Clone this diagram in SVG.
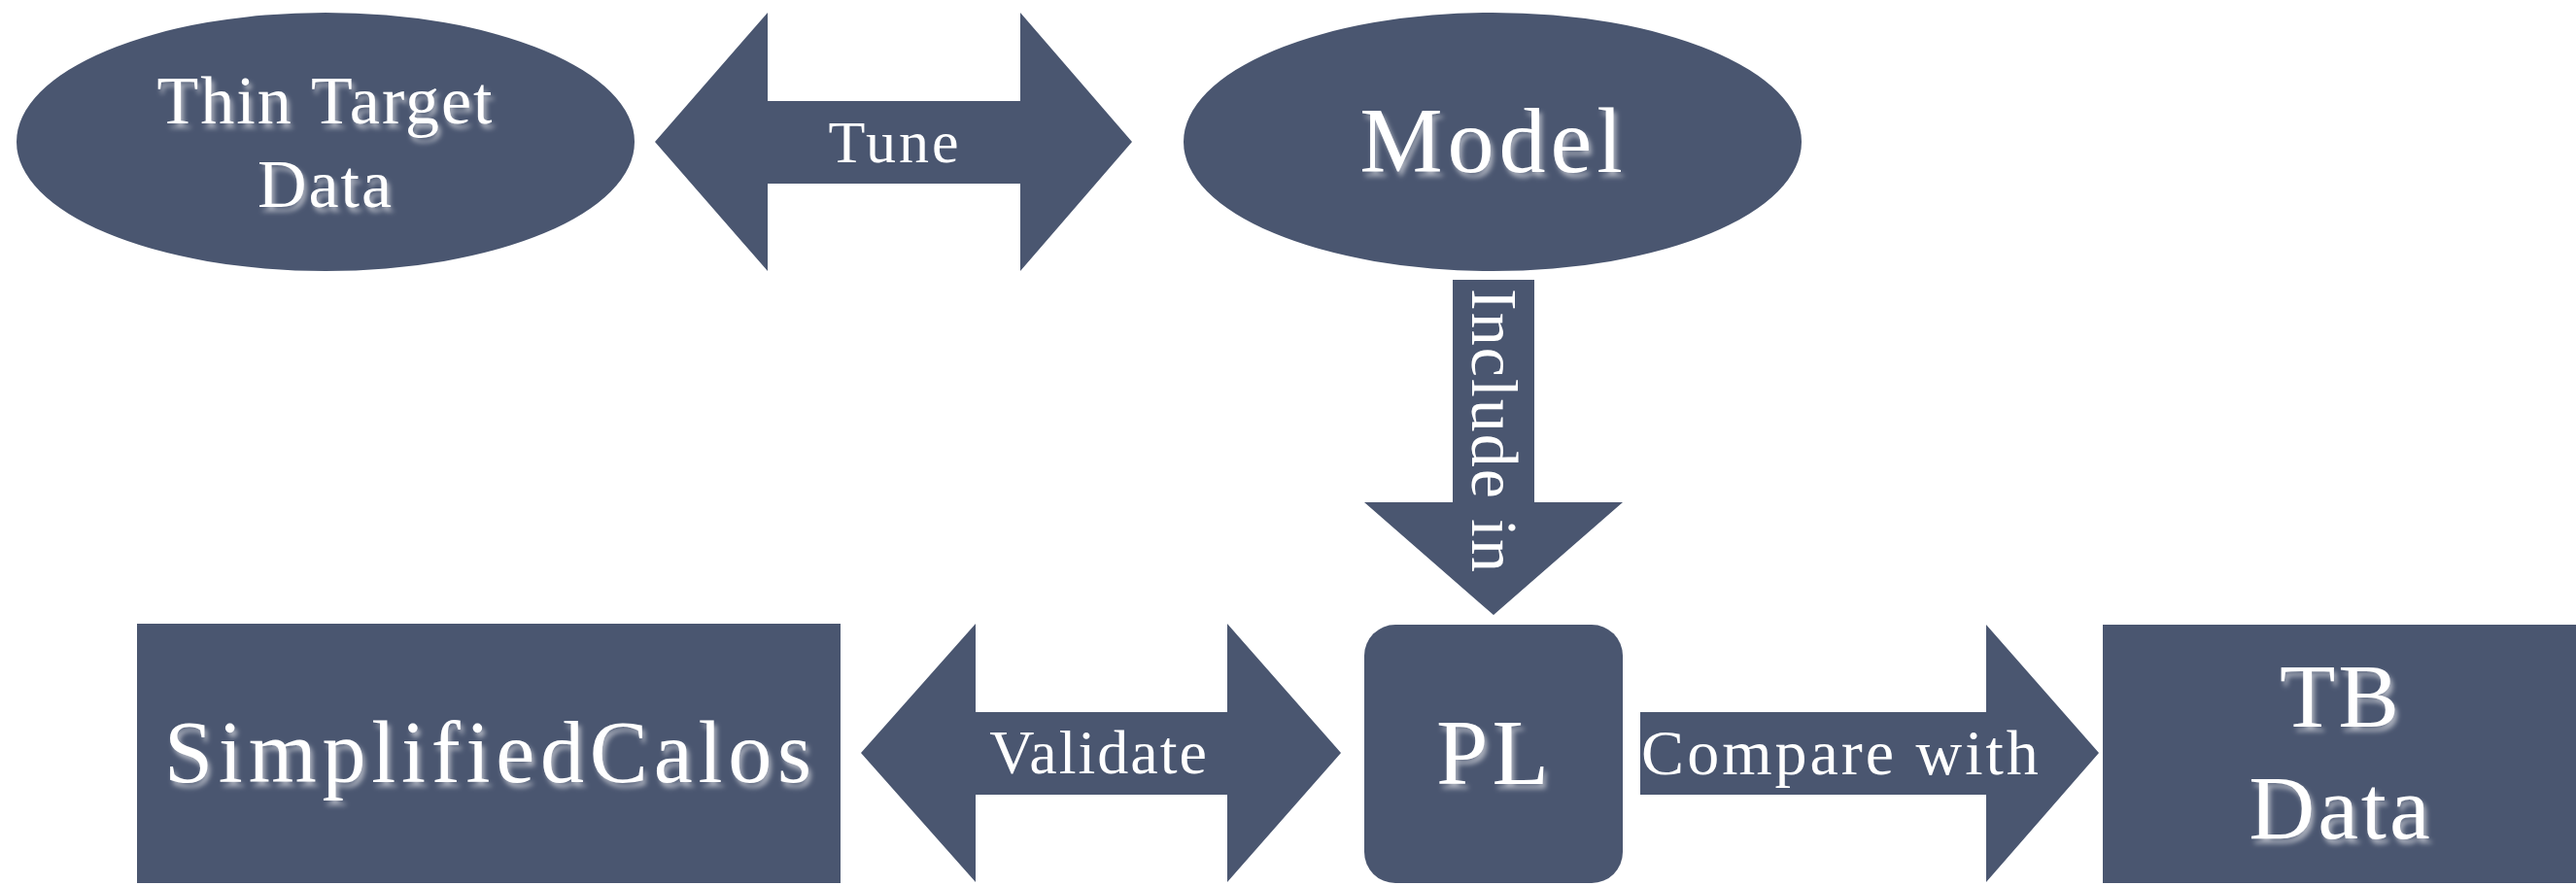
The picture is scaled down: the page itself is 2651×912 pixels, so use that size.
<svg xmlns="http://www.w3.org/2000/svg" width="2651" height="912" viewBox="0 0 2651 912">
<defs>
<filter id="sh" x="-10%" y="-20%" width="130%" height="150%">
<feDropShadow dx="3" dy="5" stdDeviation="2.5" flood-color="#b8bcc6" flood-opacity="0.85"/>
</filter>
</defs>
<style>
.s{fill:#4a5670}
.t{font-family:"Liberation Serif","Times New Roman",serif;fill:#ffffff;text-anchor:middle}
.big{filter:url(#sh)}
</style>
<rect width="2651" height="912" fill="#ffffff"/>
<g id="connectors">
<g id="tune">
<polygon class="s" points="674,146 790,13 790,104 1050,104 1050,13 1165,146 1050,279 1050,189 790,189 790,279"/>
<text class="t" x="921" y="167" font-size="62" letter-spacing="3">Tune</text>
</g>
<g id="include">
<polygon class="s" points="1495,288 1579,288 1579,517 1670,517 1537,633 1404,517 1495,517"/>
<text class="t" transform="translate(1515,444) rotate(90)" x="0" y="0" font-size="68" letter-spacing="2">Include in</text>
</g>
<g id="validate">
<polygon class="s" points="886,775 1004,642 1004,733 1263,733 1263,642 1380,775 1263,908 1263,818 1004,818 1004,908"/>
<text class="t" x="1131" y="796" font-size="64" letter-spacing="2">Validate</text>
</g>
<g id="compare">
<polygon class="s" points="1688,733 2044,733 2044,643 2160,775 2044,908 2044,818 1688,818"/>
<text class="t" x="1895" y="797" font-size="66" letter-spacing="3">Compare with</text>
</g>
</g>
<g id="thin-target">
<ellipse class="s" cx="335" cy="146" rx="318" ry="133"/>
<text class="t big" x="335" y="127" font-size="70" letter-spacing="2">Thin Target</text>
<text class="t big" x="335" y="213" font-size="70" letter-spacing="2">Data</text>
</g>
<g id="model">
<ellipse class="s" cx="1536" cy="146" rx="318" ry="133"/>
<text class="t big" x="1537" y="177" font-size="96" letter-spacing="5">Model</text>
</g>
<g id="simplified-calos">
<rect class="s" x="141" y="642" width="724" height="267"/>
<text class="t big" x="502" y="805" font-size="90" textLength="666" lengthAdjust="spacing">SimplifiedCalos</text>
</g>
<g id="pl">
<rect class="s" x="1404" y="643" width="266" height="266" rx="32" ry="32"/>
<text class="t big" x="1538" y="807" font-size="96" letter-spacing="4">PL</text>
</g>
<g id="tb-data">
<rect class="s" x="2164" y="643" width="487" height="266"/>
<text class="t big" x="2409" y="748" font-size="94" letter-spacing="3">TB</text>
<text class="t big" x="2409" y="863" font-size="94" letter-spacing="3">Data</text>
</g>
</svg>
